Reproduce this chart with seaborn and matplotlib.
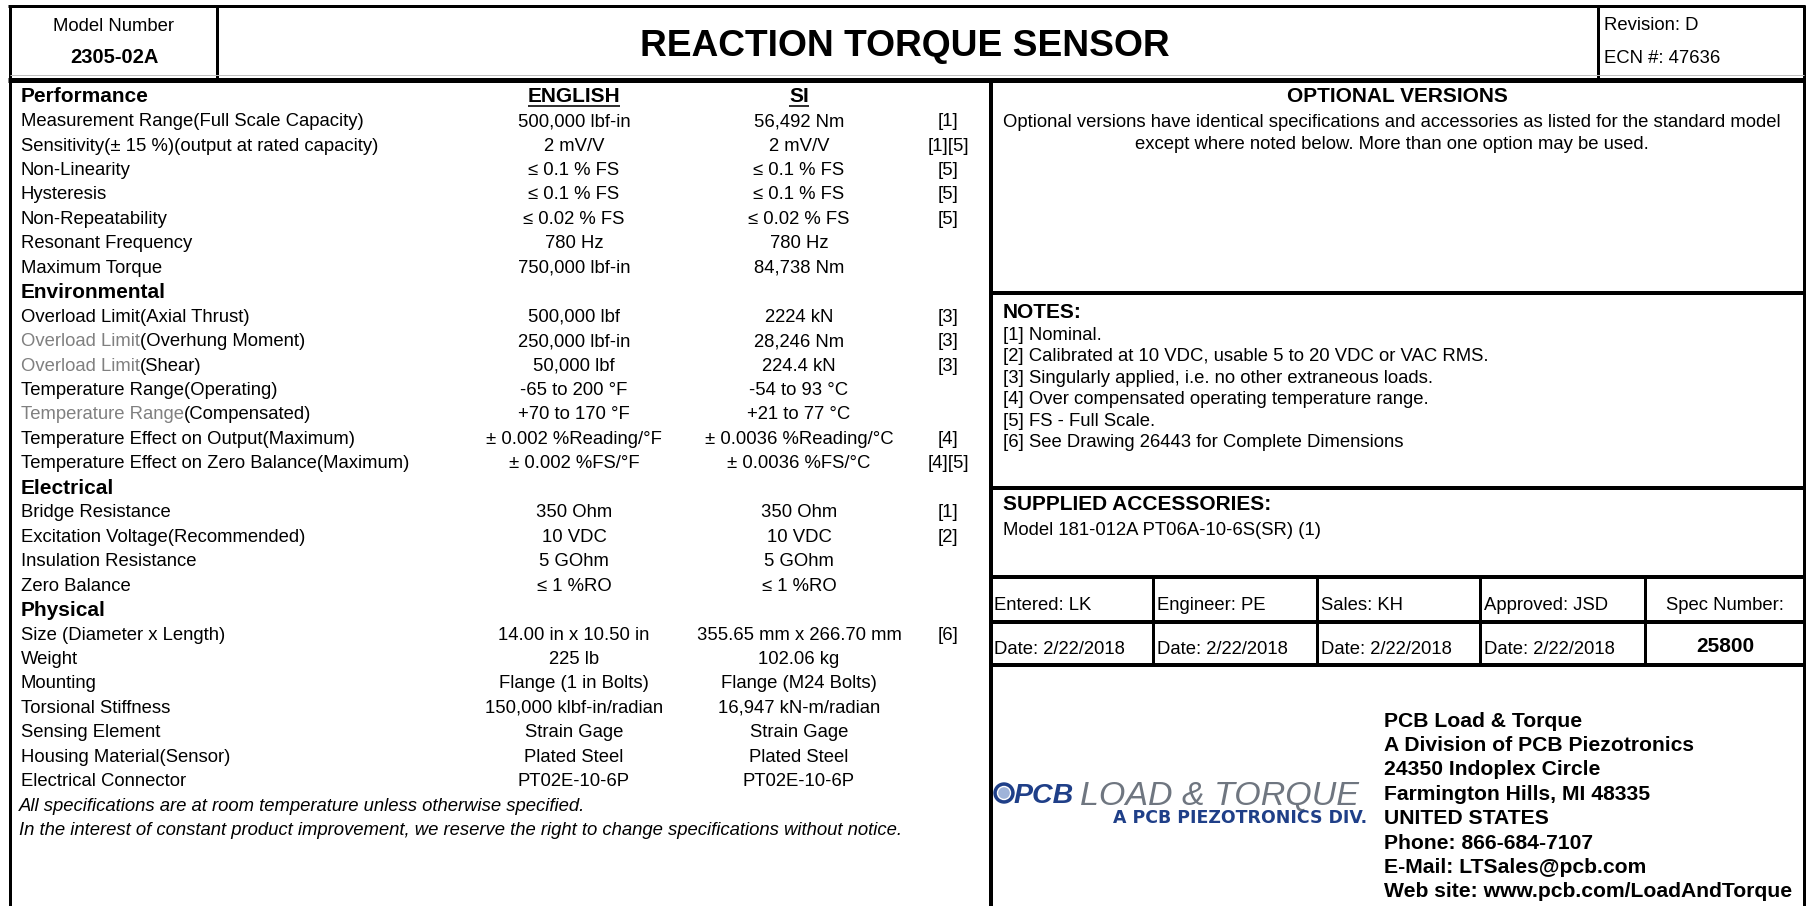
import matplotlib
matplotlib.use('Agg')
import matplotlib.pyplot as plt
import seaborn as sns
from matplotlib.patches import Circle

# --- sheet content ---
model_number = '2305-02A'
title = 'REACTION TORQUE SENSOR'
revision = 'Revision: D'
ecn = 'ECN #: 47636'

spec_sections = ['Performance', 'Environmental', 'Electrical', 'Physical']
spec_section_of = ['Performance'] * 7 + ['Environmental'] * 7 + ['Electrical'] * 4 + ['Physical'] * 7

spec_muted = ['', '', '', '', '', '', '',
              '', 'Overload Limit', 'Overload Limit', '', 'Temperature Range', '', '',
              '', '', '', '',
              '', '', '', '', '', '', '']
spec_labels = [
    'Measurement Range(Full Scale Capacity)', 'Sensitivity(± 15 %)(output at rated capacity)',
    'Non-Linearity', 'Hysteresis', 'Non-Repeatability', 'Resonant Frequency', 'Maximum Torque',
    'Overload Limit(Axial Thrust)', '(Overhung Moment)', '(Shear)', 'Temperature Range(Operating)',
    '(Compensated)', 'Temperature Effect on Output(Maximum)', 'Temperature Effect on Zero Balance(Maximum)',
    'Bridge Resistance', 'Excitation Voltage(Recommended)', 'Insulation Resistance', 'Zero Balance',
    'Size (Diameter x Length)', 'Weight', 'Mounting', 'Torsional Stiffness', 'Sensing Element',
    'Housing Material(Sensor)', 'Electrical Connector',
]
spec_english = [
    '500,000 lbf-in', '2 mV/V', '≤ 0.1 % FS', '≤ 0.1 % FS', '≤ 0.02 % FS', '780 Hz', '750,000 lbf-in',
    '500,000 lbf', '250,000 lbf-in', '50,000 lbf', '-65 to 200 °F', '+70 to 170 °F',
    '± 0.002 %Reading/°F', '± 0.002 %FS/°F',
    '350 Ohm', '10 VDC', '5 GOhm', '≤ 1 %RO',
    '14.00 in x 10.50 in', '225 lb', 'Flange (1 in Bolts)', '150,000 klbf-in/radian', 'Strain Gage',
    'Plated Steel', 'PT02E-10-6P',
]
spec_si = [
    '56,492 Nm', '2 mV/V', '≤ 0.1 % FS', '≤ 0.1 % FS', '≤ 0.02 % FS', '780 Hz', '84,738 Nm',
    '2224 kN', '28,246 Nm', '224.4 kN', '-54 to 93 °C', '+21 to 77 °C',
    '± 0.0036 %Reading/°C', '± 0.0036 %FS/°C',
    '350 Ohm', '10 VDC', '5 GOhm', '≤ 1 %RO',
    '355.65 mm x 266.70 mm', '102.06 kg', 'Flange (M24 Bolts)', '16,947 kN-m/radian', 'Strain Gage',
    'Plated Steel', 'PT02E-10-6P',
]
spec_notes = [
    '[1]', '[1][5]', '[5]', '[5]', '[5]', '', '',
    '[3]', '[3]', '[3]', '', '', '[4]', '[4][5]',
    '[1]', '[2]', '', '',
    '[6]', '', '', '', '', '', '',
]
footer_lines = [
    'All specifications are at room temperature unless otherwise specified.',
    'In the interest of constant product improvement, we reserve the right to change specifications without notice.',
]

optional_title = 'OPTIONAL VERSIONS'
optional_text = [
    'Optional versions have identical specifications and accessories as listed for the standard model',
    'except where noted below. More than one option may be used.',
]
notes_text = [
    '[1] Nominal.',
    '[2] Calibrated at 10 VDC, usable 5 to 20 VDC or VAC RMS.',
    '[3] Singularly applied, i.e. no other extraneous loads.',
    '[4] Over compensated operating temperature range.',
    '[5] FS - Full Scale.',
    '[6] See Drawing 26443 for Complete Dimensions',
]
accessories = ['Model 181-012A PT06A-10-6S(SR) (1)']
signoff_roles = ['Entered: LK', 'Engineer: PE', 'Sales: KH', 'Approved: JSD']
signoff_dates = ['Date: 2/22/2018'] * 4
spec_number = '25800'
address = [
    'PCB Load & Torque', 'A Division of PCB Piezotronics', '24350 Indoplex Circle',
    'Farmington Hills, MI 48335', 'UNITED STATES', 'Phone: 866-684-7107',
    'E-Mail: LTSales@pcb.com', 'Web site: www.pcb.com/LoadAndTorque',
]

sns.set_theme(style='white')
plt.rcParams['font.family'] = ['Liberation Sans', 'DejaVu Sans']
plt.rcParams['text.color'] = 'black'

W, H = 1808, 906
fig = plt.figure(figsize=(W / 100, H / 100), dpi=100)
ax = fig.add_axes([0, 0, 1, 1])
ax.set_xlim(0, W)
ax.set_ylim(H, 0)
ax.axis('off')

BODY = 13.3
HEAD = 15
GREY = '#808080'
NAVY = '#1f3f88'


def put(x, y, s, size=BODY, **kw):
    # y is the visual middle of the line; convert to a baseline
    return ax.text(x, y + 0.36 * size * 100 / 72, s, fontsize=size, va='baseline', **kw)


def hline(y, x0, x1, px=3, color='black'):
    ax.plot([x0, x1], [y, y], color=color, lw=px * 0.72, solid_capstyle='butt')


def vline(x, y0, y1, px=3, color='black'):
    ax.plot([x, x], [y0, y1], color=color, lw=px * 0.72, solid_capstyle='butt')


# frame
hline(6, 8.5, 1805.5, 3)
vline(10, 5, H, 3)
vline(1804, 5, H, 3)
vline(217, 6, 80, 3)
vline(1598, 6, 80, 3)
hline(75, 10, 1804, 1, '#c0c0c0')
hline(79.5, 8.5, 1805.5, 5)
vline(991, 80, H, 4)
for yy in [293, 488, 577, 622, 665]:
    hline(yy, 991, 1804, 4)
for xx in [1153, 1317, 1480, 1645]:
    vline(xx, 577, 665, 3)

# header
put(114, 24, 'Model Number', 13.3, ha='center')
put(114, 56, model_number, 14.5, ha='center', fontweight='bold')
put(905, 43, title, 26.7, ha='center', fontweight='bold')
put(1604, 23, revision, 13.3)
put(1604, 56, ecn, 13.3)

# left specification block
row0, pitch = 95, 24.45
x_lab, x_eng, x_si, x_note = 21, 574, 799, 948
renderer = fig.canvas.get_renderer()

put(x_lab, row0, spec_sections[0], HEAD, fontweight='bold')
for xc, head in [(x_eng, 'ENGLISH'), (x_si, 'SI')]:
    t = put(xc, row0, head, HEAD, ha='center', fontweight='bold')
    bb = t.get_window_extent(renderer=renderer)
    hline(row0 + 11, xc - bb.width / 2, xc + bb.width / 2, 1.6)

row = 1
current = spec_sections[0]
for i, lab in enumerate(spec_labels):
    if spec_section_of[i] != current:
        current = spec_section_of[i]
        put(x_lab, row0 + row * pitch, current, HEAD, fontweight='bold')
        row += 1
    y = row0 + row * pitch
    if spec_muted[i]:
        t = put(x_lab, y, spec_muted[i], BODY, color=GREY)
        ax.annotate(lab, xy=(1, 0), xycoords=t, fontsize=BODY, va='bottom', ha='left')
    else:
        put(x_lab, y, lab, BODY)
    put(x_eng, y, spec_english[i], BODY, ha='center')
    put(x_si, y, spec_si[i], BODY, ha='center')
    if spec_notes[i]:
        put(x_note, y, spec_notes[i], BODY, ha='center')
    row += 1

for line in footer_lines:
    put(x_lab - 2, row0 + row * pitch, line, BODY, style='italic')
    row += 1

# right block
put(1397, 94, optional_title, HEAD, ha='center', fontweight='bold')
for k, line in enumerate(optional_text):
    put(1392, 120 + k * 22, line, BODY, ha='center')

put(1003, 311, 'NOTES:', HEAD, fontweight='bold')
for k, line in enumerate(notes_text):
    put(1003, 333 + k * 21.5, line, BODY)

put(1003, 503, 'SUPPLIED ACCESSORIES:', HEAD, fontweight='bold')
for k, line in enumerate(accessories):
    put(1003, 528 + k * 21.5, line, BODY)

for xx, role, date in zip([994, 1157, 1321, 1484], signoff_roles, signoff_dates):
    put(xx, 603, role, BODY)
    put(xx, 647, date, BODY)
put(1725, 603, 'Spec Number:', BODY, ha='center')
put(1725, 645, spec_number, HEAD, ha='center', fontweight='bold')

# logo
ax.add_patch(Circle((1004, 793), 10, facecolor=NAVY, edgecolor=NAVY))
ax.add_patch(Circle((1004, 793), 6.5, facecolor='#9fb3d9', edgecolor='white', lw=1))
put(1014, 793, 'PCB', 20.5, fontweight='bold', style='italic', color=NAVY)
put(1080, 793, 'LOAD & TORQUE', 24.5, style='italic', color='#6f7680')
ax.text(1367, 818, 'A PCB PIEZOTRONICS DIV.', fontsize=12.5, fontweight='bold',
        family='DejaVu Sans', color=NAVY, ha='right', va='center')

for k, line in enumerate(address):
    put(1384, 719 + k * 24.4, line, 15.2, fontweight='bold')

fig.savefig('out.png', dpi=100)
